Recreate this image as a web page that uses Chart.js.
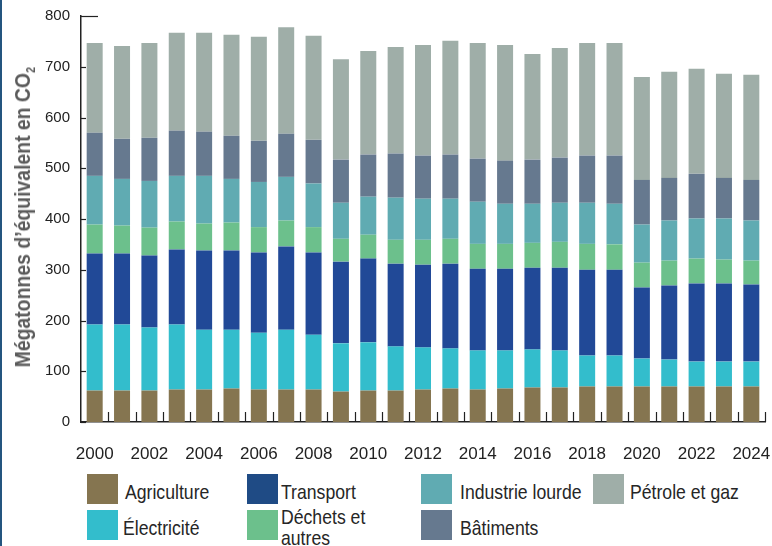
<!DOCTYPE html>
<html>
<head>
<meta charset="utf-8">
<script src="https://cdn.jsdelivr.net/npm/chart.js@4.4.0/dist/chart.umd.min.js"></script>
<style>
  body { margin: 0; background: #fff; font-family: 'Liberation Sans', Arial, sans-serif; }
  #wrap { position: relative; width: 772px; height: 546px; overflow: hidden; }
  #edge { position: absolute; left: 0; top: 0; width: 2px; height: 546px; background: #24557f; }
  #box { position: absolute; left: 0; top: 0; width: 772px; height: 465px; }
  #ytitle { position: absolute; white-space: nowrap; font-weight: bold; font-size: 22px; color: #5b5b5b; }
  #ytitle sub { font-size: 12px; }
  .sw { position: absolute; width: 31px; height: 30px; }
  .lt { position: absolute; font-size: 21px; line-height: 21px; color: #262626; white-space: nowrap;
    transform-origin: left center; transform: translateY(-50%) scaleX(0.84); }
</style>
</head>
<body>
<div id="wrap">
  <div id="edge"></div>
  <div id="box"><canvas id="emChart"></canvas></div>
  <div id="ytitle">Mégatonnes d’équivalent en CO<sub>2</sub></div>
  <div id="legend"></div>
</div>
<script>
const years = [];
for (let y = 2000; y <= 2024; y++) years.push(String(y));

const agriculture = [62, 62, 62, 64, 64, 66, 64, 64, 64, 60, 62, 62, 64, 66, 64, 66, 68, 68, 70, 70, 70, 70, 70, 70, 70];
const electricite = [130, 130, 124, 128, 118, 116, 112, 118, 108, 95, 95, 87, 83, 79, 77, 75, 75, 73, 61, 61, 55, 53, 49, 49, 49];
const transport = [140, 140, 142, 148, 156, 156, 158, 164, 162, 161, 165, 163, 163, 167, 161, 161, 161, 163, 169, 169, 140, 146, 154, 154, 152];
const dechets = [57, 55, 55, 55, 53, 55, 50, 51, 50, 45, 47, 47, 49, 49, 49, 49, 49, 51, 51, 50, 49, 49, 49, 47, 47];
const industrie = [96, 92, 92, 90, 94, 86, 89, 86, 86, 71, 75, 83, 81, 79, 83, 79, 77, 77, 81, 80, 75, 79, 79, 81, 79];
const batiments = [85, 79, 85, 89, 87, 85, 81, 85, 86, 85, 83, 87, 85, 87, 85, 85, 87, 89, 93, 95, 88, 84, 88, 80, 80];
const petrole = [177, 183, 187, 193, 195, 199, 205, 210, 205, 198, 204, 210, 218, 224, 228, 228, 208, 216, 222, 222, 203, 209, 207, 205, 207];

const yTicks = [0, 100, 200, 300, 400, 500, 600, 700, 800];

const series = [
  { label: 'Agriculture', data: agriculture, color: '#857550', key: '#857550' },
  { label: 'Électricité', data: electricite, color: '#33bdcc', key: '#33bdcc' },
  { label: 'Transport', data: transport, color: '#214997', key: '#1f4b85' },
  { label: 'Déchets et autres', data: dechets, color: '#6cc08c', key: '#6cc08c' },
  { label: 'Industrie lourde', data: industrie, color: '#60abb2', key: '#60abb2' },
  { label: 'Bâtiments', data: batiments, color: '#66798f', key: '#66798f' },
  { label: 'Pétrole et gaz', data: petrole, color: '#9faea8', key: '#9faea8' }
];

const FONT = "'Liberation Sans', Arial, sans-serif";

// small inward tick marks like the original figure
const tickMarks = {
  id: 'tickMarks',
  afterDatasetsDraw(chart) {
    const { ctx, scales: { x, y } } = chart;
    ctx.save();
    ctx.strokeStyle = '#222';
    ctx.lineWidth = 1.2;
    const step = (x.right - x.left) / years.length;
    for (let i = 1; i <= years.length; i++) {
      const px = Math.round(x.left + i * step) + 0.5;
      ctx.beginPath();
      ctx.moveTo(px, y.bottom);
      ctx.lineTo(px, y.bottom - 10);
      ctx.stroke();
    }
    yTicks.forEach(v => {
      const py = Math.round(y.getPixelForValue(v)) + 0.5;
      const len = v === yTicks[yTicks.length - 1] ? 17 : 5;
      ctx.beginPath();
      ctx.moveTo(x.left, py);
      ctx.lineTo(x.left + len, py);
      ctx.stroke();
    });
    ctx.restore();
  }
};

const ctx = document.getElementById('emChart').getContext('2d');
const emChart = new Chart(ctx, {
  type: 'bar',
  data: {
    labels: years,
    datasets: series.map(s => ({
      label: s.label,
      data: s.data,
      backgroundColor: s.color,
      borderWidth: 0,
      barPercentage: 0.585,
      categoryPercentage: 1
    }))
  },
  options: {
    responsive: true,
    maintainAspectRatio: false,
    animation: false,
    layout: { padding: { top: 16, right: 7, left: 0, bottom: 0 } },
    plugins: { legend: { display: false }, tooltip: { enabled: false } },
    scales: {
      x: {
        stacked: true,
        grid: { display: false },
        border: { display: true, color: '#222', width: 1.5 },
        ticks: {
          autoSkip: false,
          maxRotation: 0,
          padding: 14,
          color: '#222',
          font: { family: FONT, size: 17 },
          callback: (val, i) => (i % 2 === 0 ? years[i] : '')
        },
        afterFit: s => { s.height = 43; s.paddingLeft = 0; s.paddingRight = 0; }
      },
      y: {
        stacked: true,
        min: 0,
        max: 800,
        grid: { display: false, drawTicks: false },
        border: { display: true, color: '#222', width: 1.5 },
        afterBuildTicks: s => { s.ticks = yTicks.map(v => ({ value: v })); },
        ticks: {
          padding: 11,
          color: '#222',
          font: { family: FONT, size: 15 }
        },
        afterFit: s => { s.width = 81; s.paddingTop = 0; s.paddingBottom = 0; }
      }
    }
  },
  plugins: [tickMarks]
});

// y title: rotated and squeezed to the narrow look of the original
const yt = document.getElementById('ytitle');
const ytScale = 300 / yt.offsetWidth;
yt.style.left = (24 - yt.offsetWidth / 2) + 'px';
yt.style.top = (217 - yt.offsetHeight / 2) + 'px';
yt.style.transform = 'rotate(-90deg) scaleX(' + ytScale + ')';

// legend built as html, laid out like the figure
const legendPos = [
  { x: 87, y: 474, tx: 125, ty: 491 },
  { x: 87, y: 510, tx: 123, ty: 527 },
  { x: 247, y: 474, tx: 281, ty: 491 },
  { x: 247, y: 510, tx: 281, ty: 527 },
  { x: 421, y: 474, tx: 460, ty: 491 },
  { x: 421, y: 510, tx: 460, ty: 527 },
  { x: 593, y: 474, tx: 630, ty: 491 }
];
const lg = document.getElementById('legend');
series.forEach((s, i) => {
  const p = legendPos[i];
  const sw = document.createElement('div');
  sw.className = 'sw';
  sw.style.left = p.x + 'px';
  sw.style.top = p.y + 'px';
  sw.style.background = s.key;
  lg.appendChild(sw);
  const t = document.createElement('div');
  t.className = 'lt';
  t.style.left = p.tx + 'px';
  t.style.top = p.ty + 'px';
  if (s.label === 'Déchets et autres') {
    t.innerHTML = 'Déchets et<br>autres';
  } else {
    t.textContent = s.label;
  }
  lg.appendChild(t);
});
</script>
</body>
</html>
